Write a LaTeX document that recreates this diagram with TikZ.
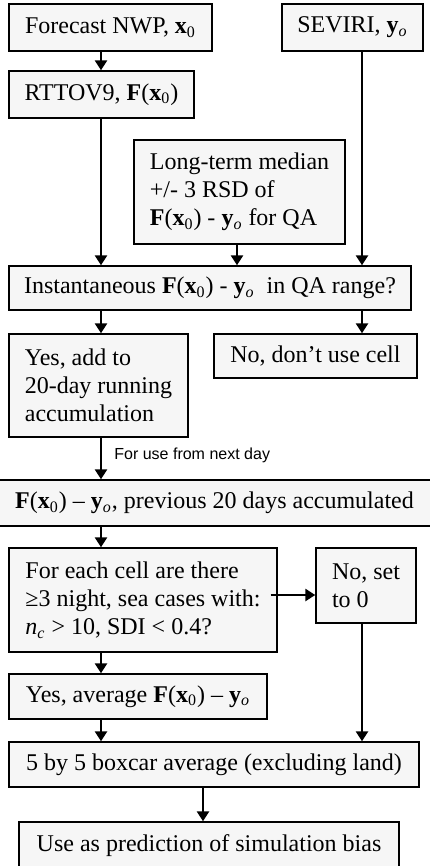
\documentclass[tikz,border=0pt]{standalone}
\usepackage{fontspec}
\setmainfont{Liberation Serif}
\newfontfamily\labfont{Liberation Sans}
\usetikzlibrary{arrows.meta}
\definecolor{boxfill}{RGB}{246,246,246}
\newcommand{\Fx}{\textbf{F}(\textbf{x}\textsubscript{0})}
\newcommand{\yo}{\textbf{y}\textsubscript{\textit{o}}}

\begin{document}
\begin{tikzpicture}[x=0.5pt, y=-0.5pt,
	box/.style={draw, line width=0.7pt, fill=boxfill, inner sep=0pt, align=left,
		font=\fontsize{12}{14}\selectfont},
	arr/.style={line width=1.4pt, -{Triangle[width=6pt,length=5pt]}},
	lab/.style={font=\labfont\fontsize{8}{9}\selectfont, inner sep=0pt}]
	\useasboundingbox (0,0) rectangle (429,866);
	\coordinate (lcol) at (101,0);
	\coordinate (mcol) at (237,0);
	\coordinate (rcol) at (362,0);
	\coordinate (bcol) at (203,0);
	% inputs
	\node[box, minimum width=101.5pt, minimum height=23.5pt] at (110.5,27.5) (fcst) {Forecast NWP, \textbf{x}\textsubscript{0}};
	\node[box, minimum width=70.5pt, minimum height=23.5pt] at (352.5,27.5) (sev) {SEVIRI, \yo};
	\node[box, minimum width=92.5pt, minimum height=23.5pt] at (101.5,94.5) (rtt) {RTTOV9, \Fx};
	\node[box, minimum width=105.5pt, minimum height=52pt] at (239.5,192) (ltm) {Long-term median\\+/- 3 RSD of\\\Fx{} - \yo{} for QA};
	% quality check
	\node[box, minimum width=201pt, minimum height=22pt] at (210,288) (inst) {Instantaneous \Fx{} - \yo{}\ \ in QA range?};
	\node[box, minimum width=89.5pt, minimum height=51.5pt] at (98.5,385.5) (yes1) {Yes, add to\\20-day running\\accumulation};
	\node[box, minimum width=101.5pt, minimum height=22pt] at (315.5,356) (no1) {No, don’t use cell};
	% accumulated
	\node[box, minimum width=216.5pt, minimum height=23pt] at (214.5,503) (acc) {\Fx{} – \yo, previous 20 days accumulated};
	\node[box, minimum width=134pt, minimum height=52pt] at (143,600) (each) {For each cell are there\\≥3 night, sea cases with:\\\textit{n}\textsubscript{\textit{c}} > 10, SDI < 0.4?};
	\node[box, minimum width=50pt, minimum height=37.5pt] at (366,585.5) (no2) {No, set\\to 0};
	\node[box, minimum width=129pt, minimum height=22.5pt] at (138,696.5) (avg) {Yes, average \Fx{} – \yo};
	\node[box, minimum width=205pt, minimum height=22.5pt] at (214,764.5) (box5) {5 by 5 boxcar average (excluding land)};
	\node[box, minimum width=190pt, minimum height=24pt] at (209,846) (use) {Use as prediction of simulation bias};
	% connectors
	\draw[arr] (fcst.south -| lcol) -- (rtt.north -| lcol);
	\draw[arr] (rtt.south -| lcol) -- (inst.north -| lcol);
	\draw[arr] (ltm.south -| mcol) -- (inst.north -| mcol);
	\draw[arr] (sev.south -| rcol) -- (inst.north -| rcol);
	\draw[arr] (inst.south -| lcol) -- (yes1.north -| lcol);
	\draw[arr] (inst.south -| rcol) -- (no1.north -| rcol);
	\draw[arr] (yes1.south -| lcol) -- node[lab, right=6pt, pos=0.42] {For use from next day} (acc.north -| lcol);
	\draw[arr] (acc.south -| lcol) -- (each.north -| lcol);
	\draw[arr] ([xshift=-3.5pt,yshift=2.5pt]each.east) -- ([yshift=2.5pt]each.east -| no2.west);
	\draw[arr] (each.south -| lcol) -- (avg.north -| lcol);
	\draw[arr] (no2.south -| rcol) -- (box5.north -| rcol);
	\draw[arr] (avg.south -| lcol) -- (box5.north -| lcol);
	\draw[arr] (box5.south -| bcol) -- (use.north -| bcol);
\end{tikzpicture}
\end{document}
